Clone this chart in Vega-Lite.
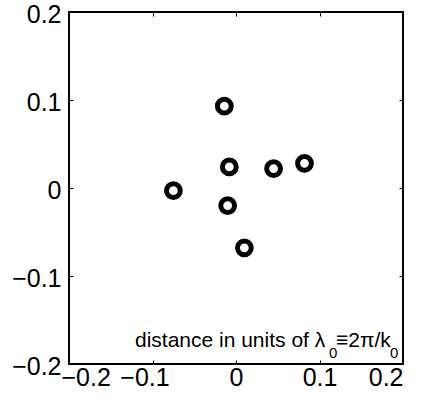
{
  "$schema": "https://vega.github.io/schema/vega-lite/v6.json",
  "width": 334,
  "height": 352,
  "autosize": {"type": "none"},
  "padding": {"left": 69, "top": 12, "right": 19, "bottom": 40},
  "background": "white",
  "config": {
    "view": {"stroke": "black", "strokeWidth": 2},
    "font": "Liberation Sans",
    "axis": {
      "domain": false,
      "grid": false,
      "tickSize": -4,
      "tickColor": "black",
      "tickWidth": 1,
      "labelFont": "Liberation Sans",
      "labelFontSize": 25,
      "labelColor": "black",
      "title": null
    }
  },
  "data": {
    "values": [
      {"x": -0.014, "y": 0.093},
      {"x": -0.008, "y": 0.024},
      {"x": 0.045, "y": 0.022},
      {"x": 0.082, "y": 0.028},
      {"x": -0.075, "y": -0.003},
      {"x": -0.010, "y": -0.020},
      {"x": 0.010, "y": -0.068}
    ]
  },
  "resolve": {"axis": {"x": "independent", "y": "independent"}},
  "layer": [
    {
      "mark": {"type": "point", "shape": "circle", "filled": false, "stroke": "black", "strokeWidth": 5, "size": 190, "opacity": 1},
      "encoding": {
        "x": {"field": "x", "type": "quantitative", "scale": {"domain": [-0.2, 0.2], "nice": false, "zero": false},
              "axis": {"orient": "bottom", "values": [-0.2, -0.1, 0, 0.1, 0.2], "format": ".1~f", "labelPadding": 5,
                       "labelOffset": {"condition": {"test": "datum.value < 0", "value": -8}, "value": 0}}},
        "y": {"field": "y", "type": "quantitative", "scale": {"domain": [-0.2, 0.2], "nice": false, "zero": false},
              "axis": {"orient": "left", "values": [-0.2, -0.1, 0, 0.1, 0.2], "format": ".1~f", "labelPadding": 12, "labelOffset": 2}}
      }
    },
    {
      "mark": {"type": "point", "opacity": 0},
      "encoding": {
        "x": {"field": "x", "type": "quantitative", "axis": {"orient": "top", "values": [-0.2, -0.1, 0, 0.1, 0.2], "labels": false}},
        "y": {"field": "y", "type": "quantitative", "axis": {"orient": "right", "values": [-0.2, -0.1, 0, 0.1, 0.2], "labels": false}}
      }
    },
    {
      "data": {"values": [{}]},
      "layer": [
        {
          "mark": {"type": "text", "text": "distance in units of λ", "fontSize": 21, "fontWeight": "normal", "align": "left", "baseline": "alphabetic", "color": "black"},
          "encoding": {
            "x": {"datum": -0.121, "type": "quantitative", "axis": null},
            "y": {"datum": -0.1807, "type": "quantitative", "axis": null}
          }
        },
        {
          "mark": {"type": "text", "text": "0", "fontSize": 15, "fontWeight": "normal", "align": "left", "baseline": "alphabetic", "color": "black"},
          "encoding": {
            "x": {"datum": 0.1114, "type": "quantitative", "axis": null},
            "y": {"datum": -0.1935, "type": "quantitative", "axis": null}
          }
        },
        {
          "mark": {"type": "text", "text": "≡2π/k", "fontSize": 21, "fontWeight": "normal", "align": "left", "baseline": "alphabetic", "color": "black"},
          "encoding": {
            "x": {"datum": 0.1198, "type": "quantitative", "axis": null},
            "y": {"datum": -0.1807, "type": "quantitative", "axis": null}
          }
        },
        {
          "mark": {"type": "text", "text": "0", "fontSize": 15, "fontWeight": "normal", "align": "left", "baseline": "alphabetic", "color": "black"},
          "encoding": {
            "x": {"datum": 0.1845, "type": "quantitative", "axis": null},
            "y": {"datum": -0.1935, "type": "quantitative", "axis": null}
          }
        }
      ]
    }
  ]
}
